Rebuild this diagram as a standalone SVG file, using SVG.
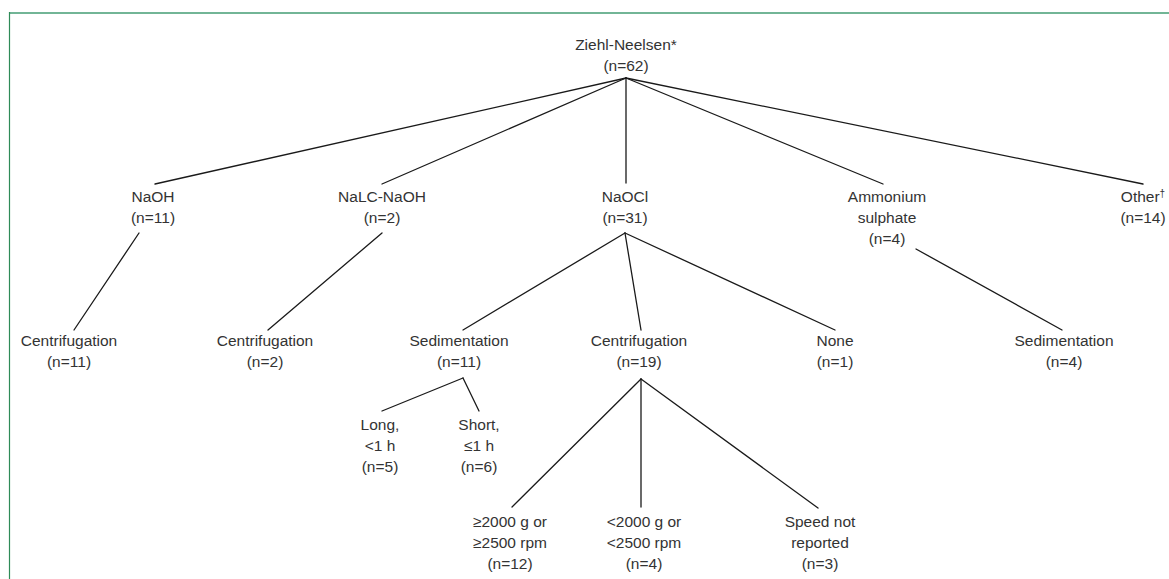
<svg xmlns="http://www.w3.org/2000/svg" width="1169" height="579" viewBox="0 0 1169 579">
<style>
text{font-family:"Liberation Sans",Arial,sans-serif;font-size:15.5px;fill:#333;text-anchor:middle}
.c line{stroke:#1a1a1a;stroke-width:1.3;stroke-linecap:round}
.sup{font-size:10px}
</style>
<rect width="1169" height="579" fill="#fff"/>
<g id="frame">
<line x1="9" y1="13" x2="1169" y2="13" stroke="#72b596" stroke-width="2"/>
<line x1="9.5" y1="12" x2="9.5" y2="579" stroke="#2e8b57" stroke-width="1.2"/>
</g>
<g class="c" id="connectors">
<line x1="626" y1="78" x2="155" y2="184"/>
<line x1="626" y1="78" x2="382" y2="184"/>
<line x1="626" y1="78" x2="626" y2="183"/>
<line x1="626" y1="78" x2="883" y2="184"/>
<line x1="626" y1="78" x2="1143" y2="184"/>
<line x1="139" y1="233" x2="74" y2="330"/>
<line x1="382" y1="233" x2="268" y2="330"/>
<line x1="625" y1="233" x2="463" y2="330"/>
<line x1="625" y1="233" x2="641" y2="330"/>
<line x1="625" y1="233" x2="835" y2="330"/>
<line x1="916" y1="249" x2="1062" y2="330"/>
<line x1="463" y1="378" x2="382" y2="411"/>
<line x1="463" y1="378" x2="479" y2="411"/>
<line x1="641" y1="379" x2="512" y2="507"/>
<line x1="641" y1="379" x2="641" y2="507"/>
<line x1="641" y1="379" x2="818" y2="508"/>
</g>
<g id="n-root"><text x="626" y="50">Ziehl-Neelsen*</text><text x="626" y="71">(n=62)</text></g>
<g id="n-naoh"><text x="153" y="202">NaOH</text><text x="153" y="223">(n=11)</text></g>
<g id="n-nalc"><text x="382" y="202">NaLC-NaOH</text><text x="382" y="223">(n=2)</text></g>
<g id="n-naocl"><text x="625" y="202">NaOCl</text><text x="625" y="223">(n=31)</text></g>
<g id="n-amm"><text x="887" y="202">Ammonium</text><text x="887" y="223">sulphate</text><text x="887" y="244">(n=4)</text></g>
<g id="n-other"><text x="1143" y="202">Other<tspan class="sup" dy="-5">†</tspan></text><text x="1143" y="223">(n=14)</text></g>
<g id="n-cen1"><text x="69" y="346">Centrifugation</text><text x="69" y="367">(n=11)</text></g>
<g id="n-cen2"><text x="265" y="346">Centrifugation</text><text x="265" y="367">(n=2)</text></g>
<g id="n-sed1"><text x="459" y="346">Sedimentation</text><text x="459" y="367">(n=11)</text></g>
<g id="n-cen3"><text x="639" y="346">Centrifugation</text><text x="639" y="367">(n=19)</text></g>
<g id="n-none"><text x="835" y="346">None</text><text x="835" y="367">(n=1)</text></g>
<g id="n-sed2"><text x="1064" y="346">Sedimentation</text><text x="1064" y="367">(n=4)</text></g>
<g id="n-long"><text x="380" y="430">Long,</text><text x="380" y="451">&lt;1 h</text><text x="380" y="472">(n=5)</text></g>
<g id="n-short"><text x="479" y="430">Short,</text><text x="479" y="451">≤1 h</text><text x="479" y="472">(n=6)</text></g>
<g id="n-hi"><text x="510" y="527">≥2000 g or</text><text x="510" y="548">≥2500 rpm</text><text x="510" y="569">(n=12)</text></g>
<g id="n-lo"><text x="644" y="527">&lt;2000 g or</text><text x="644" y="548">&lt;2500 rpm</text><text x="644" y="569">(n=4)</text></g>
<g id="n-nr"><text x="820" y="527">Speed not</text><text x="820" y="548">reported</text><text x="820" y="569">(n=3)</text></g>
</svg>
